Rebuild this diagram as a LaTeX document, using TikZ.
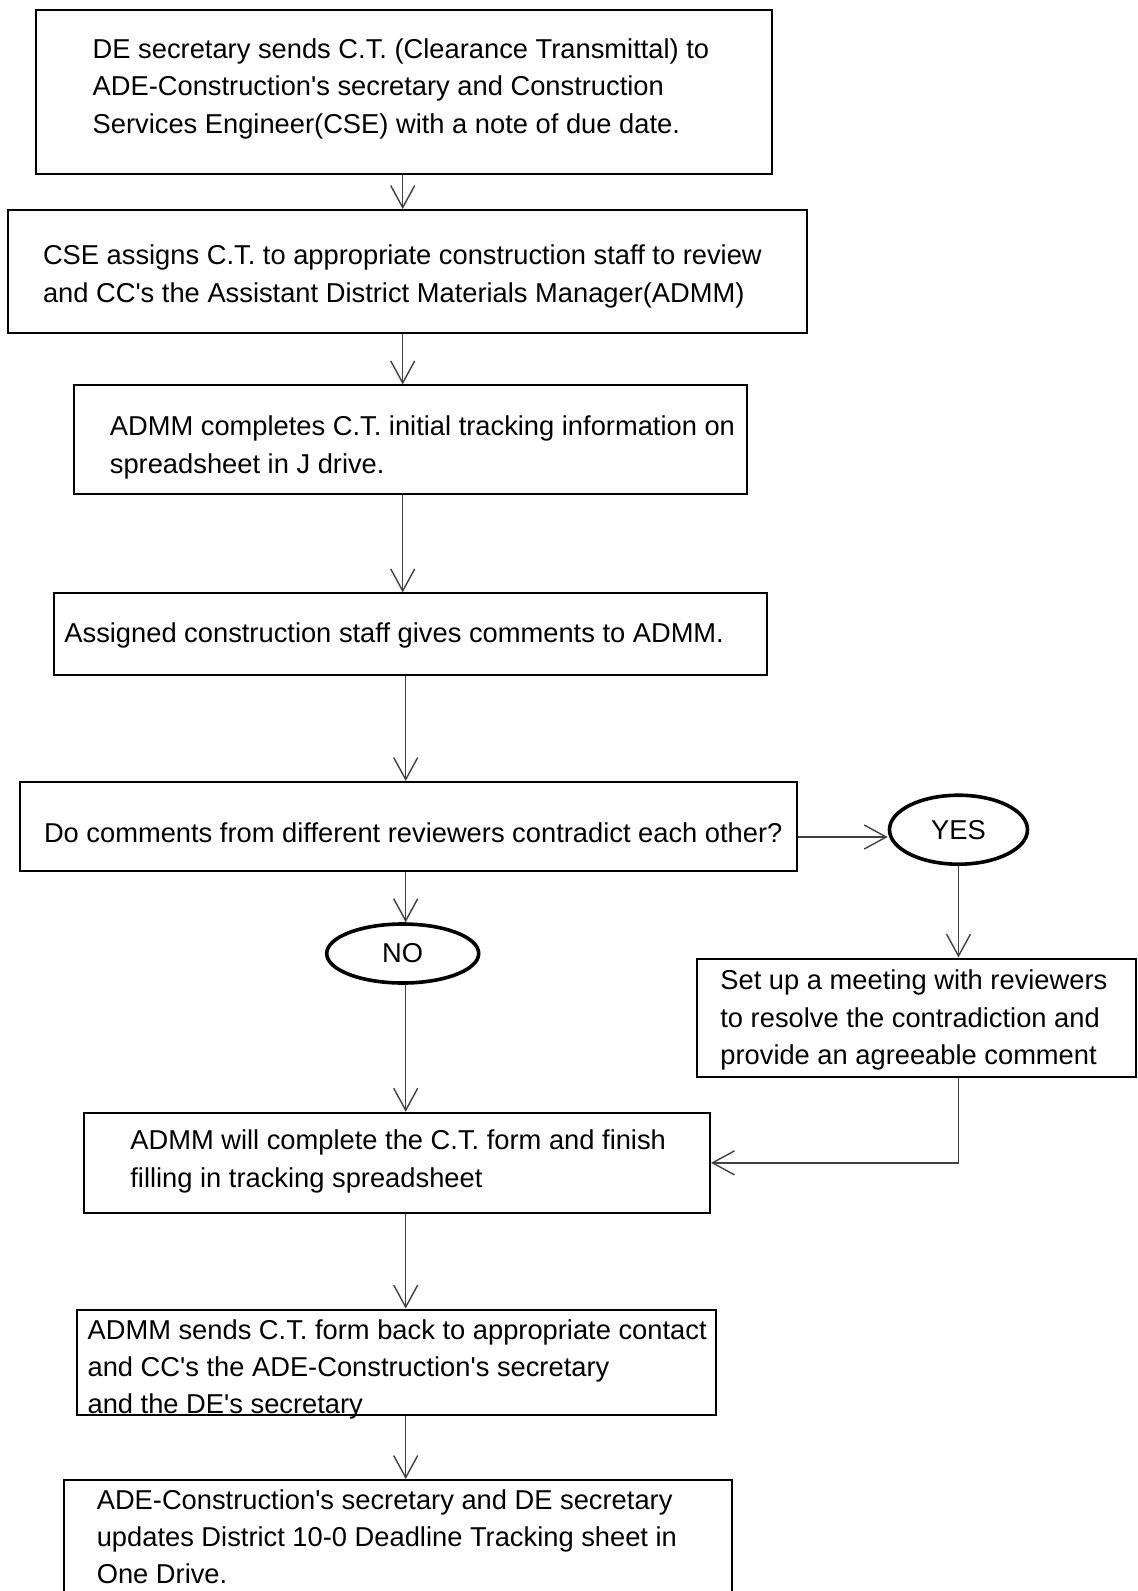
\documentclass[tikz,border=0pt]{standalone}
\usepackage{fontspec}
% plain family without TeX ligatures, so apostrophes stay straight
\newfontfamily\flowfont{Liberation Sans}
\usetikzlibrary{arrows.meta,shapes.geometric,fit}

\begin{document}
\begin{tikzpicture}[x=0.5pt,y=-0.5pt,
  stepbox/.style={draw=black, line width=1pt, inner sep=0pt},
  oval/.style={ellipse, draw=black, line width=1.8pt, inner sep=0pt,
    font=\flowfont\fontsize{13.65}{18.6}\selectfont},
  txt/.style={anchor=west, inner sep=0pt, align=left, text=black,
    font=\flowfont\fontsize{13.65}{18.6}\selectfont},
  arr/.style={draw=black!75, line width=0.7pt,
    -{Straight Barb[length=11pt,width=12pt,line width=0.7pt]}}
]
\useasboundingbox (0,0) rectangle (1138,1591);

% process boxes
\node (b1) [stepbox, fit={(35.5,10) (772,173.5)}] {};
\node (b2) [stepbox, fit={(8,210) (807.4,332.7)}] {};
\node (b3) [stepbox, fit={(74,385.4) (746.5,494)}] {};
\node (b4) [stepbox, fit={(53.8,593.4) (766.8,674.5)}] {};
\node (b5) [stepbox, fit={(20.3,782) (797.2,871.3)}] {};
\node (b7) [stepbox, fit={(696.8,958.5) (1136,1077)}] {};
\node (b6) [stepbox, fit={(84.2,1112.7) (710,1213)}] {};
\node (b8) [stepbox, fit={(77,1309.5) (716,1415)}] {};
\node (b9) [stepbox, fit={(64,1480) (732,1605)}] {};

% decision outcomes
\node (yes) [oval, minimum width=69pt, minimum height=34.5pt] at (958.5,829.7) {YES};
\node (no)  [oval, minimum width=76pt, minimum height=29.5pt] at (402.7,953.5) {NO};

% box texts
\node (t1) [txt] at (92.3,88.8) {DE secretary sends C.T. (Clearance Transmittal) to\\ADE-Construction's secretary and Construction\\Services Engineer(CSE) with a note of due date.};
\node (t2) [txt] at (42.6,276.4) {CSE assigns C.T. to appropriate construction staff to review\\and CC's the Assistant District Materials Manager(ADMM)};
\node (t3) [txt] at (109.5,447.4) {ADMM completes C.T. initial tracking information on\\spreadsheet in J drive.};
\node (t4) [txt] at (64,635) {Assigned construction staff gives comments to ADMM.};
\node (t5) [txt] at (43.6,833) {Do comments from different reviewers contradict each other?};
\node (t7) [txt] at (720,1020) {Set up a meeting with reviewers\\to resolve the contradiction and\\provide an agreeable comment};
\node (t6) [txt] at (130,1161.4) {ADMM will complete the C.T. form and finish\\filling in tracking spreadsheet};
\node (t8) [txt] at (87.2,1369.4) {ADMM sends C.T. form back to appropriate contact\\and CC's the ADE-Construction's secretary\\and the DE's secretary};
\node (t9) [txt] at (96.4,1536.6) {ADE-Construction's secretary and DE secretary\\updates District 10-0 Deadline Tracking sheet in\\One Drive.};

% connectors
\draw[arr] (402.7,0 |- b1.south) -- (402.7,0 |- b2.north);
\draw[arr] (402.7,0 |- b2.south) -- (402.7,0 |- b3.north);
\draw[arr] (402.7,0 |- b3.south) -- (402.7,0 |- b4.north);
\draw[arr] (405.7,0 |- b4.south) -- (405.7,0 |- b5.north);
\draw[arr] (405.7,0 |- b5.south) -- (405.7,0 |- no.north);
\draw[arr] (405.7,0 |- no.south) -- (405.7,0 |- b6.north);
\draw[arr] (405.7,0 |- b6.south) -- (405.7,0 |- b8.north);
\draw[arr] (405.7,0 |- b8.south) -- (405.7,0 |- b9.north);
\draw[arr] (b5.east |- 0,837) -- (yes.west |- 0,837);
\draw[arr] (yes.south) -- (yes.south |- b7.north);
\draw[arr] (yes.south |- b7.south) |- (b6.east);
\end{tikzpicture}
\end{document}
